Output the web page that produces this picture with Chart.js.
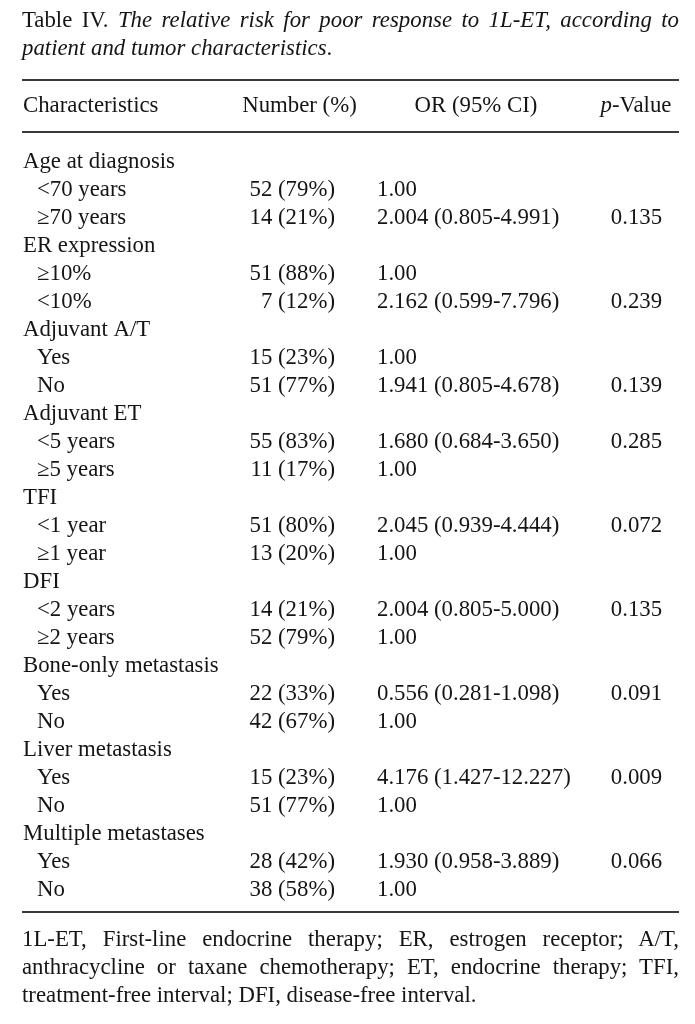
<!DOCTYPE html>
<html>
<head>
<meta charset="utf-8">
<script src="https://cdn.jsdelivr.net/npm/chart.js@4"></script>
<style>
  html, body { margin: 0; padding: 0; background: #fff; }
  #wrap { position: relative; width: 695px; height: 1024px; overflow: hidden; }
  #tableChart { position: absolute; left: 0; top: 0; }
  .txt {
    position: absolute; left: 22px; width: 657px;
    font-family: "Liberation Serif", "Times New Roman", serif;
    font-size: 22.8px; line-height: 28px; color: #151515;
    text-align: justify;
  }
  #caption { top: 6px; }
  #note { top: 925px; }
</style>
</head>
<body>
<div id="wrap">
  <canvas id="tableChart" width="695" height="1024"></canvas>
  <div id="caption" class="txt">Table IV. <i>The relative risk for poor response to 1L-ET, according to patient and tumor characteristics</i>.</div>
  <div id="note" class="txt">1L-ET, First-line endocrine therapy; ER, estrogen receptor; A/T, anthracycline or taxane chemotherapy; ET, endocrine therapy; TFI, treatment-free interval; DFI, disease-free interval.</div>
</div>
<script>
// table contents
var headers = ["Characteristics", "Number (%)", "OR (95% CI)", "-Value"];

var characteristics = [
  "Age at diagnosis", "<70 years", "≥70 years",
  "ER expression", "≥10%", "<10%",
  "Adjuvant A/T", "Yes", "No",
  "Adjuvant ET", "<5 years", "≥5 years",
  "TFI", "<1 year", "≥1 year",
  "DFI", "<2 years", "≥2 years",
  "Bone-only metastasis", "Yes", "No",
  "Liver metastasis", "Yes", "No",
  "Multiple metastases", "Yes", "No"
];

var numbers = [
  "", "52 (79%)", "14 (21%)",
  "", "51 (88%)", "7 (12%)",
  "", "15 (23%)", "51 (77%)",
  "", "55 (83%)", "11 (17%)",
  "", "51 (80%)", "13 (20%)",
  "", "14 (21%)", "52 (79%)",
  "", "22 (33%)", "42 (67%)",
  "", "15 (23%)", "51 (77%)",
  "", "28 (42%)", "38 (58%)"
];

var oddsRatios = [
  "", "1.00", "2.004 (0.805-4.991)",
  "", "1.00", "2.162 (0.599-7.796)",
  "", "1.00", "1.941 (0.805-4.678)",
  "", "1.680 (0.684-3.650)", "1.00",
  "", "2.045 (0.939-4.444)", "1.00",
  "", "2.004 (0.805-5.000)", "1.00",
  "", "0.556 (0.281-1.098)", "1.00",
  "", "4.176 (1.427-12.227)", "1.00",
  "", "1.930 (0.958-3.889)", "1.00"
];

var pValues = [
  "", "", "0.135",
  "", "", "0.239",
  "", "", "0.139",
  "", "0.285", "",
  "", "0.072", "",
  "", "0.135", "",
  "", "0.091", "",
  "", "0.009", "",
  "", "0.066", ""
];

var FONT = '22.8px "Liberation Serif", "Times New Roman", serif';
var FONT_IT = 'italic 22.8px "Liberation Serif", "Times New Roman", serif';

// draws the table cells at the rows of the y category scale
var tablePlugin = {
  id: "tablePlugin",
  afterDraw: function (chart) {
    var ctx = chart.ctx;
    var area = chart.chartArea;
    var yScale = chart.scales.y;
    var left = area.left;
    var width = area.right - area.left;

    ctx.save();
    ctx.fillStyle = "#3a3a3a";
    ctx.fillRect(left, area.top - 69, width, 2);
    ctx.fillRect(left, area.top - 17, width, 2);
    ctx.fillRect(left, area.bottom + 7, width, 2);

    ctx.fillStyle = "#151515";
    ctx.font = FONT;
    ctx.textBaseline = "alphabetic";

    // header row
    var hy = area.top - 36;
    ctx.textAlign = "left";
    ctx.fillText(headers[0], left + 1, hy);
    ctx.textAlign = "center";
    ctx.fillText(headers[1], 299.5, hy);
    ctx.fillText(headers[2], 476, hy);
    ctx.font = FONT_IT;
    var pw = ctx.measureText("p").width;
    ctx.font = FONT;
    var vw = ctx.measureText(headers[3]).width;
    var px = 636 - (pw + vw) / 2;
    ctx.textAlign = "left";
    ctx.font = FONT_IT;
    ctx.fillText("p", px, hy);
    ctx.font = FONT;
    ctx.fillText(headers[3], px + pw, hy);

    // body rows
    characteristics.forEach(function (label, i) {
      var y = yScale.getPixelForValue(i) + 6;
      var sub = numbers[i] !== "";
      ctx.textAlign = "left";
      ctx.fillText(label, left + (sub ? 15 : 1), y);
      if (numbers[i]) {
        ctx.textAlign = "right";
        ctx.fillText(numbers[i], 335, y);
      }
      if (oddsRatios[i]) {
        ctx.textAlign = "left";
        ctx.fillText(oddsRatios[i], 377, y);
      }
      if (pValues[i]) {
        ctx.textAlign = "center";
        ctx.fillText(pValues[i], 636.5, y);
      }
    });
    ctx.restore();
  }
};

var ctx = document.getElementById("tableChart").getContext("2d");
var tableChart = new Chart(ctx, {
  type: "bar",
  data: {
    labels: characteristics,
    datasets: [{ data: characteristics.map(function () { return null; }) }]
  },
  options: {
    indexAxis: "y",
    responsive: false,
    animation: false,
    events: [],
    layout: { padding: { top: 148, bottom: 120, left: 22, right: 16 } },
    plugins: { legend: { display: false }, tooltip: { enabled: false } },
    scales: { x: { display: false }, y: { display: false } }
  },
  plugins: [tablePlugin]
});
</script>
</body>
</html>
